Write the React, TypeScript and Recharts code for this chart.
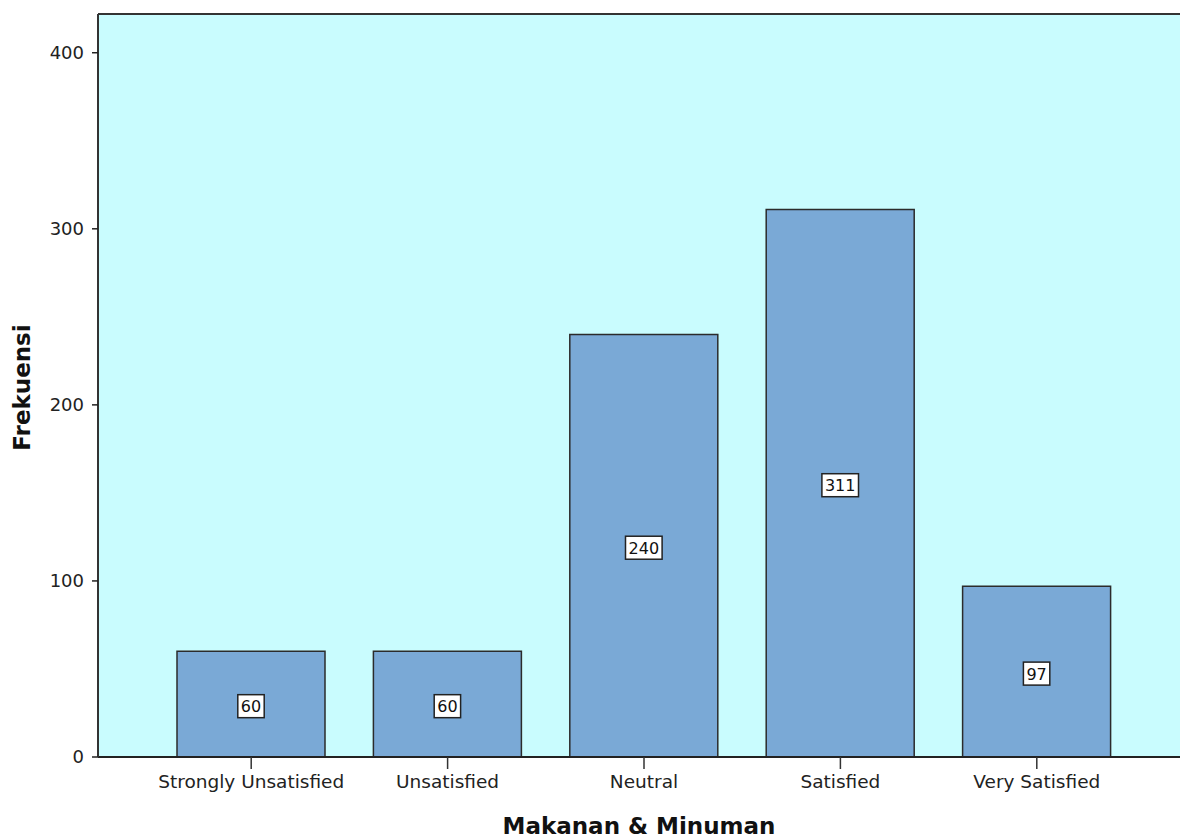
import { BarChart, Bar, XAxis, YAxis, CartesianGrid, LabelList, Label, ReferenceLine } from "recharts"

const categories = ["Strongly Unsatisfied", "Unsatisfied", "Neutral", "Satisfied", "Very Satisfied"]
const counts = [60, 60, 240, 311, 97]
const yTicks = [0, 100, 200, 300, 400]
const yMax = 422

const data = categories.map((name, i) => ({ name, count: counts[i] }))

const FONT = "'DejaVu Sans', sans-serif"

// white boxed value label in the middle of each bar
const BoxLabel = (props: any) => {
  const { x, y, width, height, value } = props
  const text = String(value)
  const w = text.length * 10.2 + 6
  const h = 23
  const cx = x + width / 2
  const cy = y + height / 2 + 2
  return (
    <g>
      <rect x={cx - w / 2} y={cy - h / 2} width={w} height={h} fill="#ffffff" stroke="#222" strokeWidth={1.5} />
      <text x={cx} y={cy + 6} textAnchor="middle" fontSize={16} fontFamily={FONT} fill="#111">
        {text}
      </text>
    </g>
  )
}

export default function App() {
  return (
    <div style={{ position: "absolute", left: 0, top: 0, width: 1180, height: 840, overflow: "hidden", background: "#fff" }}>
      <BarChart width={1180} height={840} data={data} margin={{ top: 14, right: 0, bottom: 0, left: 0 }} barSize={148}>
        <CartesianGrid fill="#c9fcfe" horizontal={false} vertical={false} />
        <XAxis
          dataKey="name"
          height={83}
          padding={{ left: 55, right: 45 }}
          axisLine={{ stroke: "#222", strokeWidth: 2 }}
          tickLine={{ stroke: "#333", strokeWidth: 1.5 }}
          tickSize={12}
          tickMargin={6}
          tick={{ fontSize: 18.5, fontFamily: FONT, fill: "#222" }}
          interval={0}
        >
          <Label
            value="Makanan & Minuman"
            position="insideBottom"
            offset={6}
            style={{ fontSize: 23, fontWeight: "bold", fontFamily: FONT, fill: "#111" }}
          />
        </XAxis>
        <YAxis
          width={98}
          domain={[0, yMax]}
          ticks={yTicks}
          allowDataOverflow
          axisLine={{ stroke: "#333", strokeWidth: 2 }}
          tickLine={{ stroke: "#222", strokeWidth: 1.5 }}
          tickSize={6}
          tickMargin={8}
          tick={{ fontSize: 18, fontFamily: FONT, fill: "#222" }}
        >
          <Label
            content={(p: any) => {
              const vb = p.viewBox
              const cy = vb.y + vb.height / 2 + 2
              return (
                <text
                  x={22}
                  y={cy}
                  transform={`rotate(-90, 22, ${cy})`}
                  textAnchor="middle"
                  dominantBaseline="central"
                  fontSize={23}
                  fontWeight="bold"
                  fontFamily={FONT}
                  fill="#111"
                >
                  Frekuensi
                </text>
              )
            }}
          />
        </YAxis>
        <ReferenceLine y={yMax} stroke="#333" strokeWidth={2} />
        <Bar dataKey="count" fill="#7aa9d6" stroke="#2b2b2b" strokeWidth={1.5} isAnimationActive={false}>
          <LabelList dataKey="count" content={BoxLabel} />
        </Bar>
      </BarChart>
    </div>
  )
}
